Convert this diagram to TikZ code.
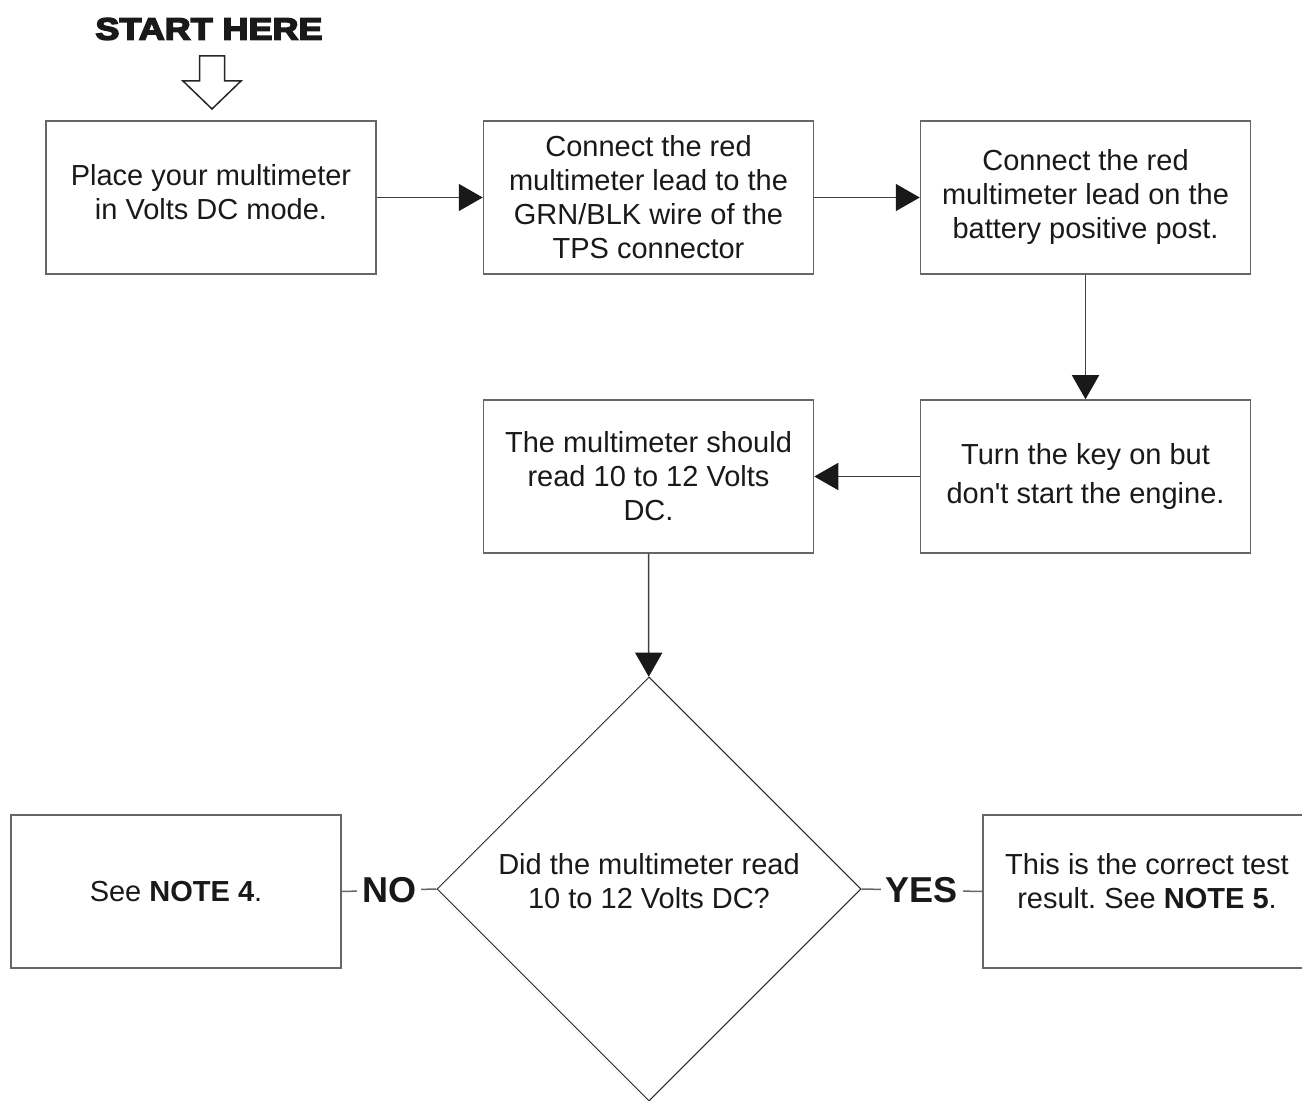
\documentclass[tikz,border=0pt]{standalone}
\usepackage{fontspec}
\setmainfont{Liberation Sans}
\newfontfamily\heavyfont[FakeStretch=1.16,FakeBold=5]{Liberation Sans}
\usetikzlibrary{shapes.geometric,arrows.meta}
\frenchspacing

\begin{document}
\begin{tikzpicture}[x=0.5pt,y=-0.5pt,
    stepbox/.style={draw=black!60, line width=0.75pt, minimum width=165pt, minimum height=76.5pt, align=center, text=black!90, font=\fontsize{14.5}{17}\selectfont},
    askbox/.style={draw=black!85, line width=0.5pt, shape=diamond, aspect=1, minimum width=212pt, minimum height=212pt, inner sep=0pt},
    words/.style={align=center, text=black!90, font=\fontsize{14.5}{17}\selectfont},
    flow/.style={draw=black!75, line width=0.75pt, -{Triangle[length=12pt,width=13.5pt,color=black!90]}},
    plain/.style={draw=black!60, line width=0.75pt},
    answer/.style={fill=white, inner sep=2.5pt, text=black!90, font=\fontsize{18}{20}\selectfont\bfseries}]
    \useasboundingbox (0,0) rectangle (1302,1101);

    \node[text=black!90, font=\fontsize{15.5}{17}\selectfont] (start) at (209,29) {\heavyfont\bfseries START HERE};
    \draw[black!85, line width=0.75pt, fill=white] (199.5,56) -- (224.5,56) -- (224.5,81) -- (241,81) -- (212,109) -- (183,81) -- (199.5,81) -- cycle;

    \node[stepbox] (mode) at (211,197.5) {};
    \node[words] at (211,192) {Place your multimeter\\in Volts DC mode.};
    \node[stepbox] (lead) at (648.5,197.5) {Connect the red\\multimeter lead to the\\GRN/BLK wire of the\\TPS connector};
    \node[stepbox] (post) at (1085.5,197.5) {Connect the red\\multimeter lead on the\\battery positive post.};
    \node[stepbox, font=\fontsize{14.5}{19.5}\selectfont] (key) at (1085.5,476.5) {Turn the key on but\\don\textquotesingle t start the engine.};
    \node[stepbox] (read) at (648.5,476.5) {The multimeter should\\read 10 to 12 Volts\\DC.};
    \node[askbox] (check) at (649,889) {};
    \node[words] at (649,881) {Did the multimeter read\\10 to 12 Volts DC?};
    \node[stepbox] (note4) at (176,891.5) {See \textbf{NOTE 4}.};
    \node[stepbox] (note5) at (1148,891.5) {};
    \node[words] at (1147,881) {This is the correct test\\result. See \textbf{NOTE 5}.};

    \draw[flow] (mode) -- (lead);
    \draw[flow] (lead) -- (post);
    \draw[flow] (post) -- (key);
    \draw[flow] (key) -- (read);
    \draw[flow] (read) -- (check);
    \draw[plain] (check.west) -- node[answer] {NO} (note4.east);
    \draw[plain] (check.east) -- node[answer] {YES} (note5.west);
\end{tikzpicture}
\end{document}
